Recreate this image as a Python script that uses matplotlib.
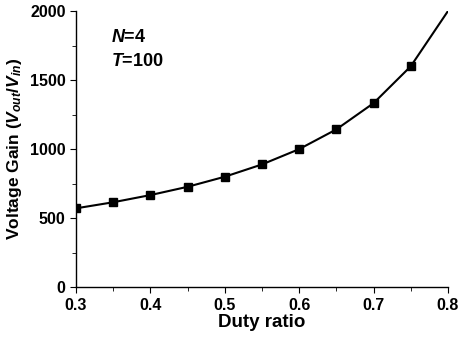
import matplotlib
matplotlib.use('Agg')
import matplotlib.pyplot as plt
from matplotlib.ticker import MultipleLocator

plt.rcParams['font.family'] = ['Liberation Sans', 'DejaVu Sans']
plt.rcParams['font.weight'] = 'bold'
plt.rcParams['mathtext.fontset'] = 'custom'
plt.rcParams['mathtext.rm'] = 'Liberation Sans:bold'
plt.rcParams['mathtext.it'] = 'Liberation Sans:italic:bold'
plt.rcParams['mathtext.bf'] = 'Liberation Sans:bold'

duty = [0.30, 0.35, 0.40, 0.45, 0.50, 0.55, 0.60, 0.65, 0.70, 0.75, 0.80]
gain = [571, 615, 667, 727, 800, 889, 1000, 1143, 1333, 1600, 2000]

fig = plt.figure(figsize=(4.58, 3.37), dpi=100)
ax = fig.add_axes([0.166, 0.148, 0.812, 0.819])

ax.plot(duty, gain, color='black', lw=1.5, marker='s', ms=5.5, markevery=slice(0, 10))

ax.set_xlim(0.3, 0.8)
ax.set_ylim(0, 2000)
ax.xaxis.set_major_locator(MultipleLocator(0.1))
ax.xaxis.set_minor_locator(MultipleLocator(0.05))
ax.yaxis.set_major_locator(MultipleLocator(500))
ax.yaxis.set_minor_locator(MultipleLocator(250))
ax.spines['top'].set_visible(False)
ax.spines['right'].set_visible(False)
for s in ('left', 'bottom'):
    ax.spines[s].set_linewidth(1.0)
ax.tick_params(which='both', direction='out', labelsize=11.5)
ax.tick_params(which='major', length=4)
ax.tick_params(which='minor', length=3)
for lab in ax.get_xticklabels() + ax.get_yticklabels():
    lab.set_fontweight('bold')

ax.set_xlabel('Duty ratio', fontsize=13.5, fontweight='bold', labelpad=1)
ax.set_ylabel(r'Voltage Gain ($V_{out}$/$V_{in}$)', fontsize=12.5, fontweight='bold', labelpad=4)

ax.text(0.094, 0.888, r'$N$=4', transform=ax.transAxes, fontsize=13, fontweight='bold')
ax.text(0.094, 0.80, r'$T$=100', transform=ax.transAxes, fontsize=13, fontweight='bold')

fig.savefig('out.png', dpi=100)
